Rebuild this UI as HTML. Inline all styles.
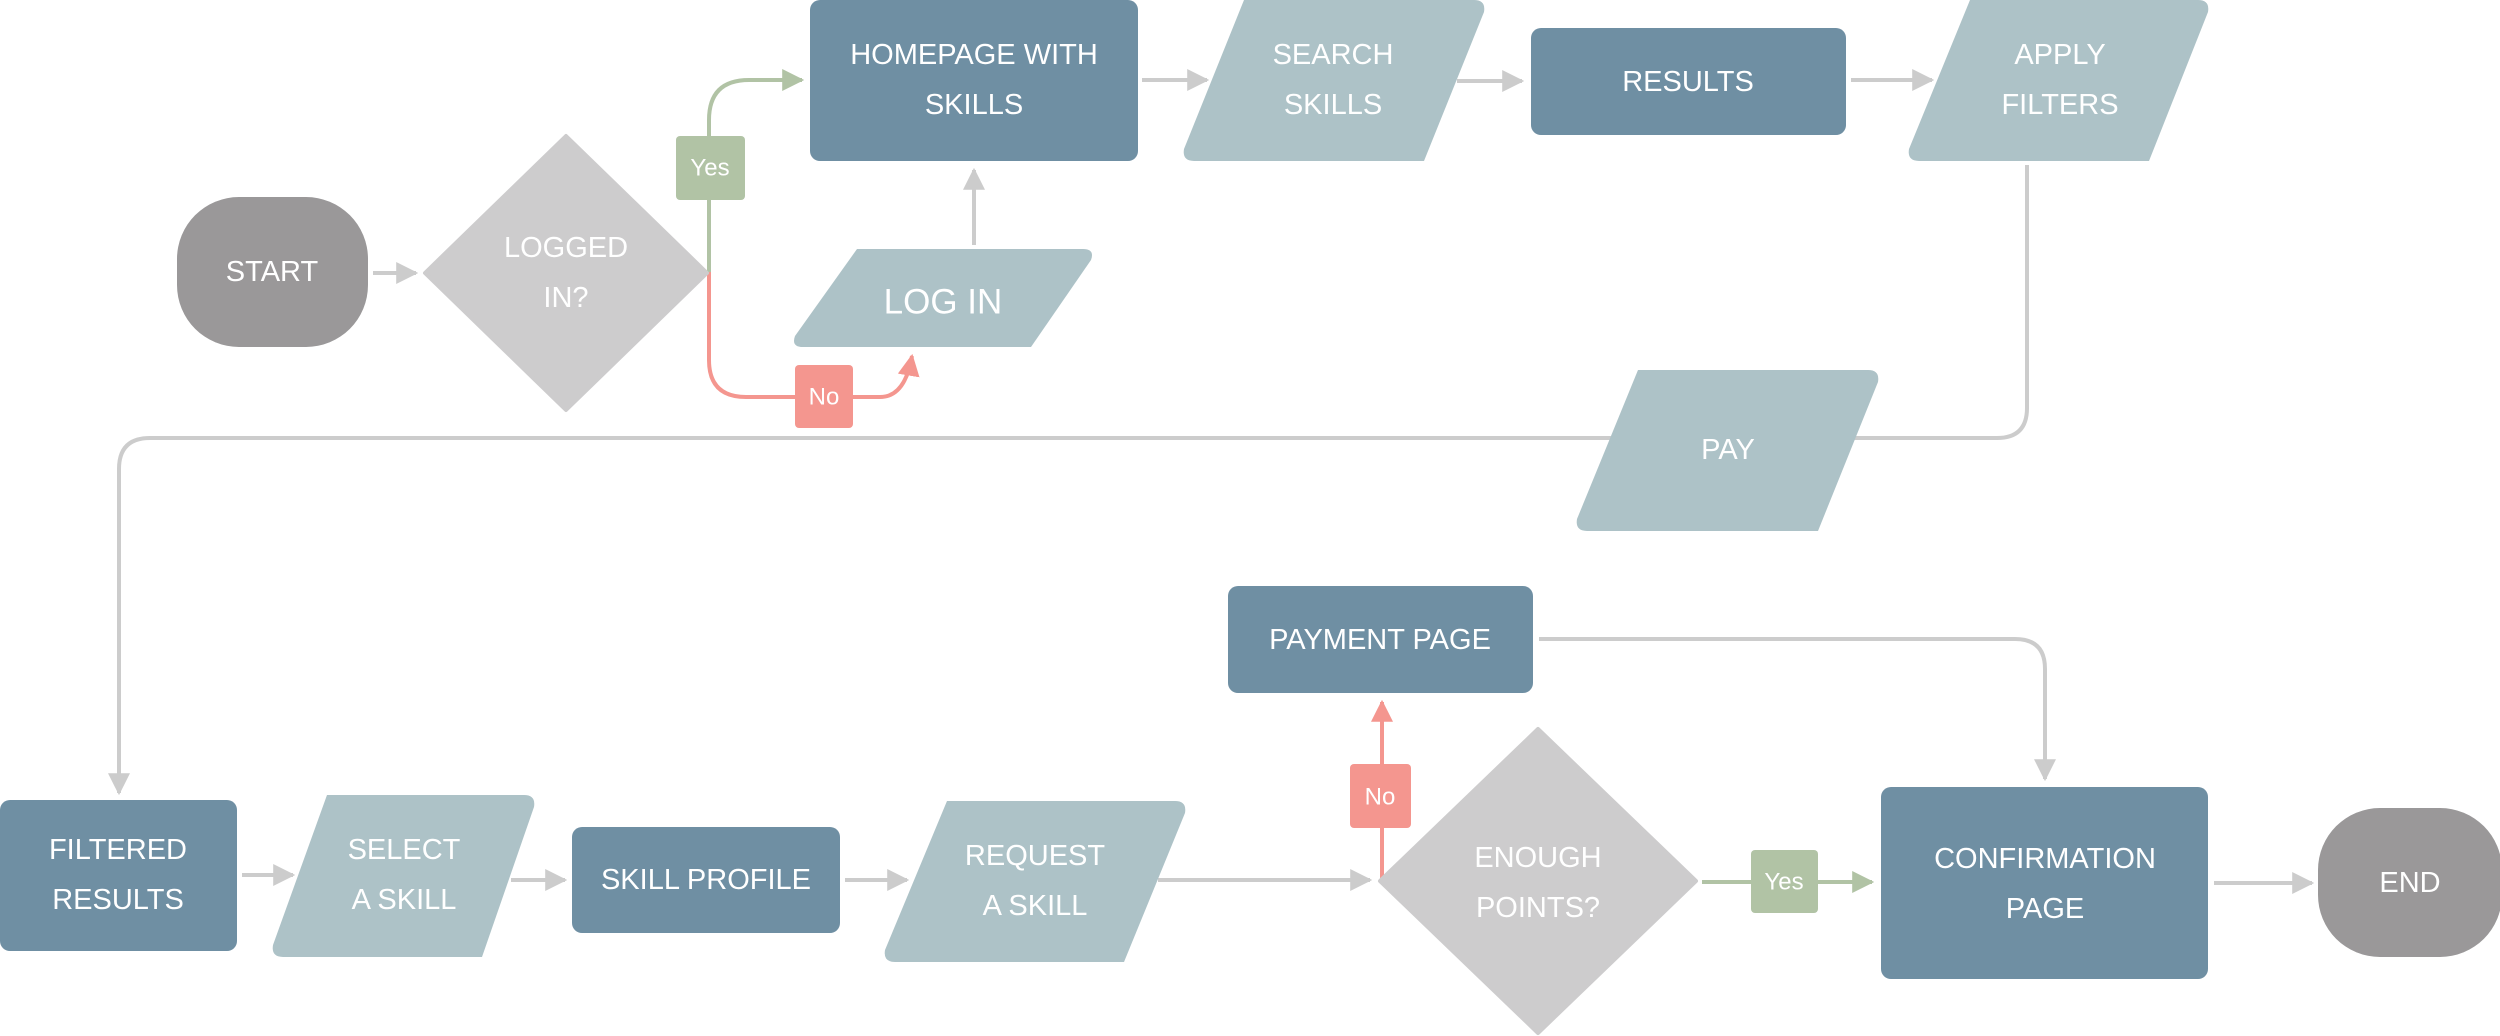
<!DOCTYPE html>
<html><head><meta charset="utf-8"><style>
html,body{margin:0;padding:0;background:#fff;}
svg{display:block;}
text{font-family:"Liberation Sans","DejaVu Sans",sans-serif;fill:#fff;text-anchor:middle;dominant-baseline:central;font-size:29px;}
</style></head><body>
<svg width="2500" height="1036" viewBox="0 0 2500 1036" xmlns="http://www.w3.org/2000/svg">
<defs>
<marker id="ag" viewBox="0 0 10 10" refX="9" refY="5" markerWidth="5.5" markerHeight="6.5" markerUnits="strokeWidth" orient="auto"><path d="M0,0 L10,5 L0,10 z" fill="#cccccc"/></marker>
<marker id="agr" viewBox="0 0 10 10" refX="9" refY="5" markerWidth="5.5" markerHeight="6.5" markerUnits="strokeWidth" orient="auto"><path d="M0,0 L10,5 L0,10 z" fill="#b1c3a5"/></marker>
<marker id="ar" viewBox="0 0 10 10" refX="9" refY="5" markerWidth="5.5" markerHeight="6.5" markerUnits="strokeWidth" orient="auto"><path d="M0,0 L10,5 L0,10 z" fill="#f4968f"/></marker>
</defs>
<g fill="none" stroke-width="4">
<!-- gray connectors -->
<g stroke="#cccccc" marker-end="url(#ag)">
<path d="M373,273 H416"/>
<path d="M974,245 V170"/>
<path d="M1142,80 H1207"/>
<path d="M1457,81 H1522"/>
<path d="M1851,80 H1932"/>
<path d="M2027,165 V408 Q2027,438 1997,438 H150 Q119,438 119,469 V793"/>
<path d="M242,875 H293"/>
<path d="M511,880 H565"/>
<path d="M845,880 H907"/>
<path d="M1158,880 H1370"/>
<path d="M1539,639 H2015 Q2045,639 2045,669 V779"/>
<path d="M2214,883 H2312"/>
</g>
<path d="M709,272 V120 Q709,80 749,80 H802" stroke="#b1c3a5" marker-end="url(#agr)"/>
<path d="M1702,882 H1872" stroke="#b1c3a5" marker-end="url(#agr)"/>
<path d="M709,272 V360 Q709,397 746,397 H880 Q905,397 912,356" stroke="#f4968f" marker-end="url(#ar)"/>
<path d="M1382,881 V702" stroke="#f4968f" marker-end="url(#ar)"/>
</g>

<!-- nodes -->
<rect x="177" y="197" width="191" height="150" rx="62" fill="#9a9899"/>
<text x="272" y="272">START</text>

<path d="M566,136 L707,273 L566,410 L425,273 Z" fill="#cdcccd" stroke="#cdcccd" stroke-width="4" stroke-linejoin="round"/>
<text x="566" y="248">LOGGED</text><text x="566" y="298">IN?</text>

<rect x="810" y="0" width="328" height="161" rx="10" fill="#6f8fa3"/>
<text x="974" y="55">HOMEPAGE WITH</text><text x="974" y="105">SKILLS</text>

<path d="M857,249 H1083 Q1095,249 1091,260 L1031,347 H803 Q791,347 795,336 Z" fill="#adc2c7"/>
<text x="943" y="302" style="font-size:35px">LOG IN</text>

<path d="M1244,0 H1474 Q1486,0 1484,12 L1424,161 H1194 Q1182,161 1184,149 Z" fill="#adc2c7"/>
<text x="1333" y="55">SEARCH</text><text x="1333" y="105">SKILLS</text>

<rect x="1531" y="28" width="315" height="107" rx="10" fill="#6f8fa3"/>
<text x="1688" y="82">RESULTS</text>

<path d="M1970,0 H2198 Q2210,0 2208,12 L2149,161 H1919 Q1907,161 1909,149 Z" fill="#adc2c7"/>
<text x="2060" y="55">APPLY</text><text x="2060" y="105">FILTERS</text>

<path d="M1638,370 H1868 Q1880,370 1878,382 L1818,531 H1587 Q1575,531 1577,519 Z" fill="#adc2c7"/>
<text x="1728" y="450">PAY</text>

<rect x="1228" y="586" width="305" height="107" rx="10" fill="#6f8fa3"/>
<text x="1380" y="640">PAYMENT PAGE</text>

<rect x="0" y="800" width="237" height="151" rx="10" fill="#6f8fa3"/>
<text x="118" y="850">FILTERED</text><text x="118" y="900">RESULTS</text>

<path d="M327,795 H524 Q536,795 534,807 L482,957 H283 Q271,957 273,945 Z" fill="#adc2c7"/>
<text x="404" y="850">SELECT</text><text x="404" y="900">A SKILL</text>

<rect x="572" y="827" width="268" height="106" rx="10" fill="#6f8fa3"/>
<text x="706" y="880">SKILL PROFILE</text>

<path d="M947,801 H1175 Q1187,801 1185,813 L1124,962 H895 Q883,962 885,950 Z" fill="#adc2c7"/>
<text x="1035" y="856">REQUEST</text><text x="1035" y="906">A SKILL</text>

<path d="M1538,729 L1696,881 L1538,1033 L1380,881 Z" fill="#cdcccd" stroke="#cdcccd" stroke-width="4" stroke-linejoin="round"/>
<text x="1538" y="858">ENOUGH</text><text x="1538" y="908">POINTS?</text>

<rect x="1881" y="787" width="327" height="192" rx="10" fill="#6f8fa3"/>
<text x="2045" y="859">CONFIRMATION</text><text x="2045" y="909">PAGE</text>

<rect x="2318" y="808" width="184" height="149" rx="62" fill="#9a9899"/>
<text x="2410" y="883">END</text>

<!-- labels -->
<rect x="676" y="136" width="69" height="64" rx="4" fill="#b1c3a5"/>
<text x="710" y="168" style="font-size:24px">Yes</text>
<rect x="795" y="365" width="58" height="63" rx="4" fill="#f4968f"/>
<text x="824" y="397" style="font-size:24px">No</text>
<rect x="1350" y="764" width="61" height="64" rx="4" fill="#f4968f"/>
<text x="1380" y="797" style="font-size:24px">No</text>
<rect x="1751" y="850" width="67" height="63" rx="4" fill="#b1c3a5"/>
<text x="1784" y="882" style="font-size:24px">Yes</text>
</svg>
</body></html>
